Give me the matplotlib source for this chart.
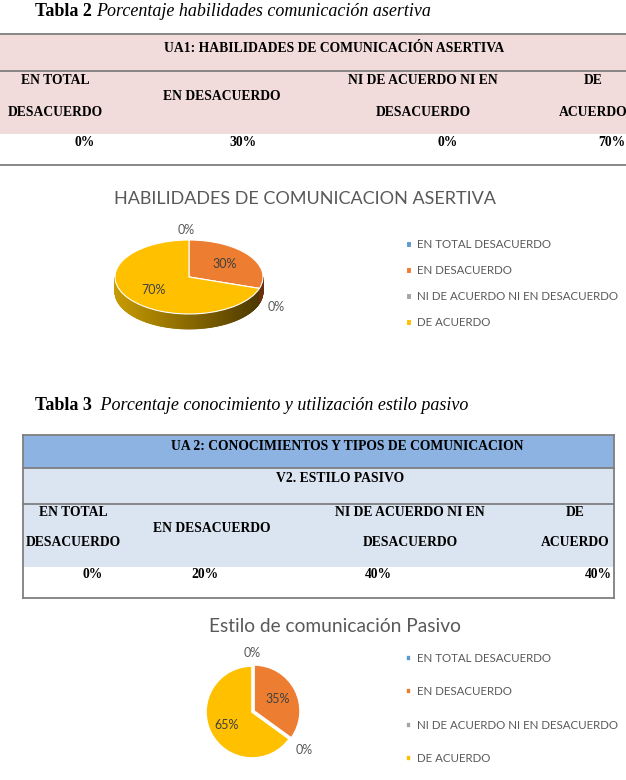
import matplotlib
matplotlib.use("Agg")
import matplotlib.pyplot as plt
from matplotlib.patches import Rectangle, Polygon
import numpy as np

# ---------------- data ----------------
categories = ["EN TOTAL DESACUERDO", "EN DESACUERDO",
              "NI DE ACUERDO NI EN DESACUERDO", "DE ACUERDO"]
header_lines = [["EN TOTAL", "DESACUERDO"], ["EN DESACUERDO"],
                ["NI DE ACUERDO NI EN", "DESACUERDO"], ["DE", "ACUERDO"]]
table2_values = [0, 30, 0, 70]
pie1_values = [0, 30, 0, 70]
table3_values = [0, 20, 40, 40]
pie2_values = [0, 35, 0, 65]
slice_colors = ["#5b9bd5", "#ed7d31", "#a5a5a5", "#ffc000"]

t2_caption = ("Tabla 2", "Porcentaje habilidades comunicación asertiva")
t3_caption = ("Tabla 3", " Porcentaje conocimiento y utilización estilo pasivo")
t2_header = "UA1: HABILIDADES DE COMUNICACIÓN ASERTIVA"
t3_header = "UA 2: CONOCIMIENTOS Y TIPOS DE COMUNICACION"
t3_sub = "V2. ESTILO PASIVO"
pie1_title = "HABILIDADES DE COMUNICACION ASERTIVA"
pie2_title = "Estilo de comunicación Pasivo"

# ---------------- figure ----------------
W, H = 626, 780
fig = plt.figure(figsize=(W / 100, H / 100), dpi=100)
bg = fig.add_axes([0, 0, 1, 1])
bg.set_xlim(0, W)
bg.set_ylim(H, 0)
bg.axis("off")

SERIF = "Liberation Serif"
SANS = "Lato"
GRAY_TXT = "#595959"
LINE = "#7f7f7f"
renderer = fig.canvas.get_renderer()


def caption(x, y, parts):
    t = bg.text(x, y, parts[0], fontfamily=SERIF, fontweight="bold",
                fontsize=13, va="center", ha="left", color="black")
    bb = t.get_window_extent(renderer=renderer)
    x2 = bg.transData.inverted().transform((bb.x1, 0))[0]
    bg.text(x2 + 4, y, parts[1], fontfamily=SERIF, fontstyle="italic",
            fontsize=13, va="center", ha="left", color="black")


def btext(x, y, s, ha="center"):
    bg.text(x, y, s, fontfamily=SERIF, fontweight="bold", fontsize=9.8,
            va="center", ha=ha, color="black")


# ---------------- Tabla 2 ----------------
caption(35, 12, t2_caption)
pink = "#f2dcdb"
bg.add_patch(Rectangle((0, 34), W, 134 - 34, facecolor=pink, edgecolor="none"))
for yy in (34, 71, 165):
    bg.plot([0, W], [yy, yy], color=LINE, lw=1.3)
btext(334, 48, t2_header)
h_cx = [55, 222, 423, 593]
for cx, lines in zip(h_cx, header_lines):
    if len(lines) == 1:
        btext(cx, 96, lines[0])
    else:
        btext(cx, 80, lines[0])
        btext(cx, 112, lines[1])
v_cx = [85, 243, 448, 612]
for cx, v in zip(v_cx, table2_values):
    btext(cx, 143, f"{v}%")

# ---------------- Tabla 3 ----------------
caption(35, 405, t3_caption)
x0, x1 = 23, 614
bg.add_patch(Rectangle((x0, 435), x1 - x0, 468 - 435, facecolor="#8db3e2", edgecolor="none"))
bg.add_patch(Rectangle((x0, 468), x1 - x0, 567 - 468, facecolor="#dbe5f1", edgecolor="none"))
for yy in (435, 468, 504, 598):
    bg.plot([x0, x1], [yy, yy], color=LINE, lw=1.3)
bg.plot([x0, x0], [435, 598], color=LINE, lw=1.3)
bg.plot([x1, x1], [435, 598], color=LINE, lw=1.3)
btext(347, 446, t3_header)
btext(340, 479, t3_sub)
h3_cx = [73, 212, 410, 575]
for cx, lines in zip(h3_cx, header_lines):
    if len(lines) == 1:
        btext(cx, 528, lines[0])
    else:
        btext(cx, 512, lines[0])
        btext(cx, 543, lines[1])
v3_cx = [93, 205, 378, 598]
for cx, v in zip(v3_cx, table3_values):
    btext(cx, 575, f"{v}%")


# ---------------- helpers ----------------
def px_axes(cx, cy, hw, hh):
    return fig.add_axes([(cx - hw) / W, 1 - (cy + hh) / H, 2 * hw / W, 2 * hh / H])


def slice_angles(values, start=90):
    total = float(sum(values))
    out = []
    a = start
    for v in values:
        span = 360 * v / total
        out.append((a - span, a))
        a -= span
    return out


def mix(c1, c2, t):
    c1 = np.array(matplotlib.colors.to_rgb(c1))
    c2 = np.array(matplotlib.colors.to_rgb(c2))
    return tuple(c1 + (c2 - c1) * t)


# ---------------- Pie 1 (3D look) ----------------
bg.text(305, 199, pie1_title, fontfamily=SANS, fontsize=13, color=GRAY_TXT,
        ha="center", va="center")
cx1, cy1, rx1, ry1, depth_px = 189, 277, 74, 37, 15
hw, hh = 105, 68
ax1 = px_axes(cx1, cy1, hw, hh)
d = depth_px / ry1
angs = slice_angles(pie1_values)
side_shades = {1: ("#a2521a", "#6a300c"), 3: ("#c89c00", "#4a3600")}
thetas = np.linspace(180, 360, 241)
for t0, t1 in zip(thetas[:-1], thetas[1:]):
    tm = (t0 + t1) / 2
    idx = None
    for i, (a0, a1) in enumerate(angs):
        lo, hi = a0 % 360, a1 % 360
        if pie1_values[i] == 0:
            continue
        if lo < hi:
            inside = lo <= tm <= hi
        else:
            inside = tm >= lo or tm <= hi
        if inside:
            idx = i
    if idx is None:
        continue
    xm = np.cos(np.radians(tm))
    c_a, c_b = side_shades.get(idx, (slice_colors[idx], slice_colors[idx]))
    col = mix(c_a, c_b, (xm + 1) / 2)
    r0, r1 = np.radians(t0), np.radians(t1)
    poly = [(np.cos(r0), np.sin(r0)), (np.cos(r1), np.sin(r1)),
            (np.cos(r1), np.sin(r1) - d), (np.cos(r0), np.sin(r0) - d)]
    ax1.add_patch(Polygon(poly, closed=True, facecolor=col, edgecolor=col,
                          lw=0.6, zorder=1))
wedges1, _ = ax1.pie(pie1_values, colors=slice_colors, startangle=90,
                     counterclock=False,
                     wedgeprops=dict(edgecolor="white", linewidth=0.8, zorder=2))
ax1.set_aspect("auto")
ax1.set_xlim(-hw / rx1, hw / rx1)
ax1.set_ylim(-hh / ry1, hh / ry1)
ax1.axis("off")
for (a0, a1), v in zip(angs, pie1_values):
    m = np.radians((a0 + a1) / 2)
    if v > 0:
        ax1.text(0.6 * np.cos(m), 0.6 * np.sin(m), f"{v}%", fontfamily=SANS,
                 fontsize=9, color="#404040", ha="center", va="center", zorder=5)
    else:
        r = 1.28
        x, y = r * np.cos(m), r * np.sin(m)
        if y < 0:
            y -= d
        ax1.text(x - 0.04, y, f"{v}%", fontfamily=SANS, fontsize=9, color=GRAY_TXT,
                 ha="center", va="center", zorder=5)
fig.legend(handles=wedges1, labels=categories, loc="upper left",
           bbox_to_anchor=(406 / W, 1 - 239 / H), frameon=False,
           prop=dict(family=SANS, size=8.3), labelcolor=GRAY_TXT,
           handlelength=0.45, handleheight=0.45, handletextpad=0.5,
           labelspacing=1.3, borderaxespad=0, borderpad=0)

# ---------------- Pie 2 ----------------
bg.text(335, 627, pie2_title, fontfamily=SANS, fontsize=13.8, color=GRAY_TXT,
        ha="center", va="center")
cx2, cy2, r2 = 252, 712, 46
hw2 = 64
ax2 = px_axes(cx2, cy2, hw2, hw2)
explode = [0.05 if v == min(x for x in pie2_values if x > 0) else 0 for v in pie2_values]
wedges2, _ = ax2.pie(pie2_values, colors=slice_colors, startangle=90,
                     counterclock=False, explode=explode,
                     wedgeprops=dict(edgecolor="white", linewidth=1.2))
ax2.set_aspect("auto")
ax2.set_xlim(-hw2 / r2, hw2 / r2)
ax2.set_ylim(-hw2 / r2, hw2 / r2)
ax2.axis("off")
angs2 = slice_angles(pie2_values)
for (a0, a1), v in zip(angs2, pie2_values):
    m = np.radians((a0 + a1) / 2)
    if v > 0:
        rr = 0.62
        ax2.text(rr * np.cos(m), rr * np.sin(m), f"{v}%", fontfamily=SANS,
                 fontsize=9, color="#404040", ha="center", va="center")
    else:
        rr = 1.28 if np.sin(m) > 0.5 else 1.4
        ax2.text(rr * np.cos(m), rr * np.sin(m), f"{v}%", fontfamily=SANS,
                 fontsize=9, color=GRAY_TXT, ha="center", va="center")
fig.legend(handles=wedges2, labels=categories, loc="upper left",
           bbox_to_anchor=(406 / W, 1 - 653 / H), frameon=False,
           prop=dict(family=SANS, size=8.3), labelcolor=GRAY_TXT,
           handlelength=0.45, handleheight=0.45, handletextpad=0.5,
           labelspacing=1.95, borderaxespad=0, borderpad=0)

fig.savefig("out.png", dpi=100)
